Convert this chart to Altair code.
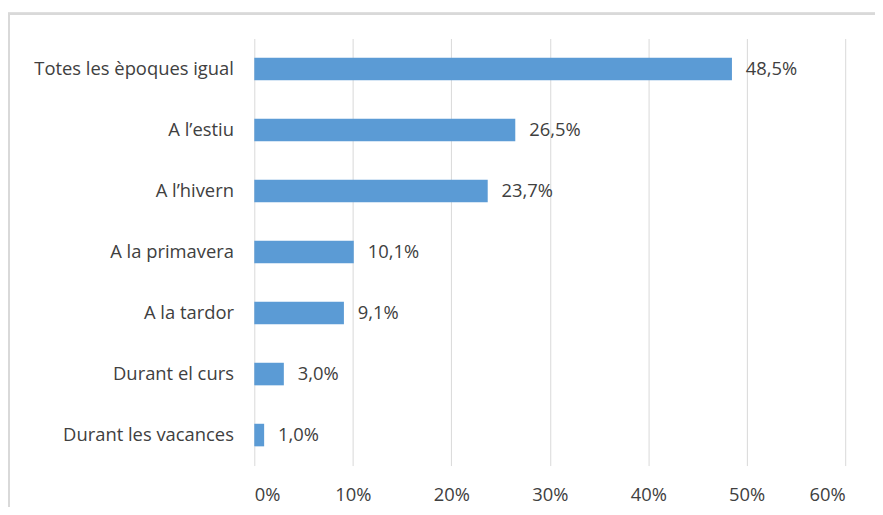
import altair as alt
import pandas as pd

categories = ["Totes les èpoques igual", "A l’estiu", "A l’hivern", "A la primavera",
              "A la tardor", "Durant el curs", "Durant les vacances"]
values = [48.5, 26.5, 23.7, 10.1, 9.1, 3.0, 1.0]
x_ticks = [0, 10, 20, 30, 40, 50, 60]

df = pd.DataFrame({
    "cat": categories,
    "val": values,
    "label": [f"{v:.1f}%".replace(".", ",") for v in values],
})

FONT = "Open Sans"
FS = 18.5
TXT = "#404040"

x = alt.X("val:Q", scale=alt.Scale(domain=[0, 60], nice=False),
          axis=alt.Axis(values=x_ticks, labelExpr="datum.value + '%'", title=None,
                        domain=False, ticks=False, grid=True, gridColor="#d9d9d9",
                        labelPadding=20, labelFontSize=FS, labelFont=FONT, labelColor=TXT))
y = alt.Y("cat:N", sort=categories, scale=alt.Scale(paddingInner=0.63, paddingOuter=0.315),
          axis=alt.Axis(title=None, domain=False, ticks=False, labelPadding=21,
                        labelLimit=400, labelFontSize=FS, labelFont=FONT, labelColor=TXT))

bars = alt.Chart(df).mark_bar(color="#5b9bd5").encode(x=x, y=y)
text = alt.Chart(df).mark_text(align="left", dx=14, fontSize=FS, font=FONT, color=TXT).encode(
    x="val:Q", y=alt.Y("cat:N", sort=categories), text="label:N")

frame = alt.Chart(df).mark_rect(fill=None, stroke="#d9d9d9", strokeWidth=2, clip=False).encode(
    x=alt.value(-247), x2=alt.value(700), y=alt.value(-25), y2=alt.value(520))

chart = alt.layer(frame, bars, text).properties(
    width=595, height=430,
    autosize=alt.AutoSizeParams(type="none"),
    padding={"left": 248, "top": 29, "right": 30, "bottom": 40},
).configure_view(stroke=None)

chart.save("out.html", embed_options={"renderer": "svg", "actions": False})
